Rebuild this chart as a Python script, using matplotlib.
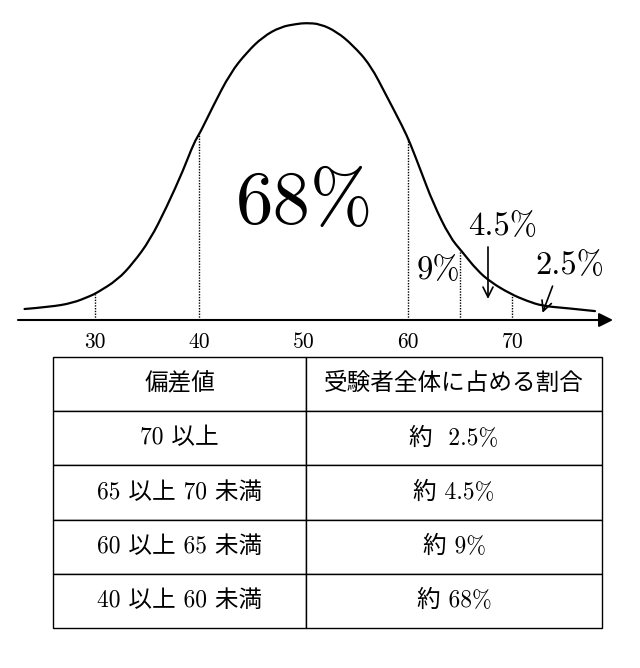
import numpy as np
import matplotlib
matplotlib.use("Agg")
import matplotlib.pyplot as plt
from matplotlib.path import Path
from matplotlib.patches import PathPatch

plt.rcParams['font.family'] = ['cmr10', 'Noto Sans CJK JP', 'DejaVu Sans']

# curve: deviation score vs relative height (peak = 100)
curve_x = [23.3, 25.7, 27.9, 29.6, 30.2, 32.2, 33.7, 35.3, 36.9, 38.5, 39.5,
           40.1, 41.3, 43.0, 44.6, 46.1, 47.8, 49.4, 50.2, 51.6, 53.2, 54.7,
           56.4, 58.0, 59.5, 60.2, 61.2, 62.4, 64.0, 65.2, 66.6, 67.9, 69.8,
           71.4, 72.9, 75.2, 77.9]
curve_h = [3.7, 4.4, 5.7, 8.1, 9.1, 13.5, 19.2, 26.9, 38.0, 50.5, 59.6,
           63.0, 71.7, 83.2, 90.2, 95.3, 98.7, 99.7, 100.0, 99.7, 97.0, 92.6,
           85.9, 75.1, 65.0, 59.6, 50.5, 39.4, 27.9, 22.9, 16.8, 12.8, 8.8,
           6.4, 4.7, 4.0, 3.0]

boundaries = [30, 40, 60, 65, 70]
tick_vals = [30, 40, 50, 60, 70]
tick_labels = ["30", "40", "50", "60", "70"]

band_labels = ["68%", "9%", "4.5%", "2.5%"]

table_header = ["偏差値", "受験者全体に占める割合"]
score_bins = ["70 以上", "65 以上 70 未満", "60 以上 65 未満", "40 以上 60 未満"]
shares = ["約  2.5%", "約 4.5%", "約 9%", "約 68%"]

W, H = 640, 668
fig = plt.figure(figsize=(W / 100, H / 100), dpi=100)
fig.patch.set_facecolor("white")

# --- distribution curve ---
ax = fig.add_axes([0, 1 - 320 / H, 1, 320 / H])
ax.set_xlim(20.95, 82.21)
ax.set_ylim(0, 107.74)
for s in ax.spines.values():
    s.set_visible(False)
ax.set_yticks([])
ax.set_xticks(tick_vals, labels=tick_labels)
ax.tick_params(axis="x", length=0, pad=9, labelsize=15.5)

# draw the read points as a smooth quadratic-bezier path (points are controls)
pts = np.column_stack([curve_x, curve_h])
verts = [pts[0]]
codes = [Path.MOVETO]
for i in range(1, len(pts) - 1):
    end = pts[i + 1] if i == len(pts) - 2 else (pts[i] + pts[i + 1]) / 2
    verts += [pts[i], end]
    codes += [Path.CURVE3, Path.CURVE3]
ax.add_patch(PathPatch(Path(verts, codes), facecolor="none", edgecolor="black",
                       lw=1.6, capstyle="round", joinstyle="round", clip_on=False))

line_tops = np.interp(boundaries, curve_x, curve_h)
ax.vlines(boundaries, 0, line_tops, colors="black", lw=1.0,
          linestyles=(0, (1, 1)))

# horizontal axis with arrow head
ax.annotate("", xy=(79.63, 0), xytext=(22.67, 0),
            arrowprops=dict(arrowstyle="-|>,head_length=0.7,head_width=0.35",
                            color="black", lw=1.5, mutation_scale=12,
                            shrinkA=0, shrinkB=0),
            annotation_clip=False)

ax.text(50.14, 39.1, band_labels[0], fontsize=54, ha="center", va="center")
ax.text(62.87, 16.7, band_labels[1], fontsize=23.5, ha="center", va="center")
ax.text(69.10, 31.6, band_labels[2], fontsize=23.5, ha="center", va="center")
ax.text(75.51, 18.2, band_labels[3], fontsize=23.5, ha="center", va="center")

ax.annotate("", xy=(67.66, 7.1), xytext=(67.66, 24.6),
            arrowprops=dict(arrowstyle="->", color="black", lw=1.2,
                            mutation_scale=18, shrinkA=0, shrinkB=0))
ax.annotate("", xy=(72.88, 2.4), xytext=(73.84, 11.4),
            arrowprops=dict(arrowstyle="->", color="black", lw=1.2,
                            mutation_scale=18, shrinkA=0, shrinkB=0))

# --- table ---
tax = fig.add_axes([53 / W, 1 - 628 / H, 549 / W, 271 / H])
tax.axis("off")
tbl = tax.table(cellText=[[a, b] for a, b in zip(score_bins, shares)],
                colLabels=table_header, cellLoc="center",
                colWidths=[0.461, 0.539], bbox=[0, 0, 1, 1])
tbl.auto_set_font_size(False)
for cell in tbl.get_celld().values():
    cell.set_linewidth(1.0)
    cell.set_edgecolor("black")
    cell.get_text().set_fontsize(17)

fig.savefig("out.png", dpi=100, facecolor="white")
